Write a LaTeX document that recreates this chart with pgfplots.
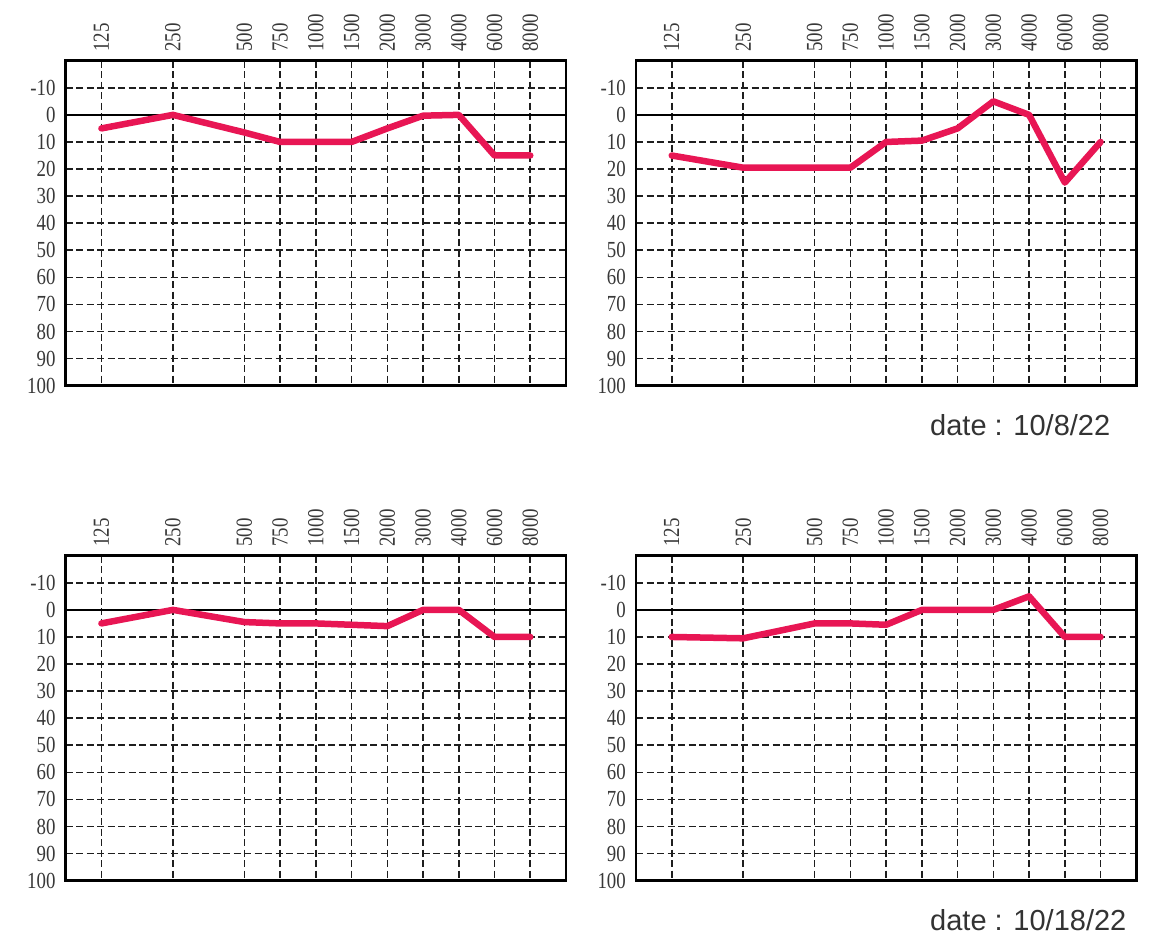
\documentclass[border=0pt]{standalone}
\usepackage{pgfplots}
\pgfplotsset{compat=1.18}
\usepackage{fontspec}
\setmainfont{Liberation Sans}
\newfontfamily\tickfont[FakeStretch=0.82]{Liberation Serif}
\definecolor{pinkline}{RGB}{232,22,84}
\definecolor{gridc}{RGB}{30,30,30}
\pgfplotsset{
  audio/.style={
    width=500.3bp, height=325bp, scale only axis,
    xmin=-1, xmax=13, ymin=-20, ymax=100, y dir=reverse,
    xtick={0,2,4,5,6,7,8,9,10,11,12},
    xticklabels={125,250,500,750,1000,1500,2000,3000,4000,6000,8000},
    xticklabel pos=upper,
    ytick={-10,10,20,30,40,50,60,70,80,90,100},
    extra y ticks={0},
    extra y tick style={major grid style={solid, black, line width=1.3bp}},
    /pgf/number format/assume math mode=true,
    major tick length=0pt,
    grid=major,
    major grid style={gridc, line width=1.6bp, dash pattern=on 7bp off 3.5bp},
    axis line style={black, line width=2.6bp},
    tick label style={font=\tickfont\fontsize{23bp}{25bp}\selectfont, text=black!78},
    yticklabel style={inner sep=0pt, anchor=east, xshift=-10bp},
    xticklabel style={inner sep=0pt, yshift=9bp, anchor=west, rotate=90},
    clip=false,
  },
  pinkl/.style={pinkline, line width=6.5bp, line join=round, line cap=round},
}
\begin{document}
\begin{tikzpicture}
\useasboundingbox (0,0) rectangle (1158bp,-942bp);
% top left
\begin{axis}[audio, at={(65.7bp,-60.7bp)}, anchor=north west]
\addplot[pinkl] coordinates {(0,5)(2,0)(4,6.5)(5,10)(6,10)(7,10)(8,5)(9,0.3)(10,0)(11,15)(12,15)};
\end{axis}
% top right
\begin{axis}[audio, at={(636bp,-60.7bp)}, anchor=north west]
\addplot[pinkl] coordinates {(0,15)(2,19.5)(4,19.5)(5,19.5)(6,10)(7,9.5)(8,5)(9,-5)(10,0)(11,25)(12,10)};
\end{axis}
% bottom left
\begin{axis}[audio, at={(65.7bp,-555.7bp)}, anchor=north west]
\addplot[pinkl] coordinates {(0,5)(2,0)(4,4.5)(5,5)(6,5)(7,5.5)(8,6)(9,0)(10,0)(11,10)(12,10)};
\end{axis}
% bottom right
\begin{axis}[audio, at={(636bp,-555.7bp)}, anchor=north west]
\addplot[pinkl] coordinates {(0,10)(2,10.5)(4,5)(5,5)(6,5.5)(7,0)(8,0)(9,0)(10,-5)(11,10)(12,10)};
\end{axis}
\node[anchor=base west, inner sep=0pt, font=\fontsize{29bp}{31bp}\selectfont, text=black!80] at (930bp,-435bp) {date : 10/8/22};
\node[anchor=base west, inner sep=0pt, font=\fontsize{29bp}{31bp}\selectfont, text=black!80] at (930bp,-930bp) {date : 10/18/22};
\end{tikzpicture}
\end{document}
